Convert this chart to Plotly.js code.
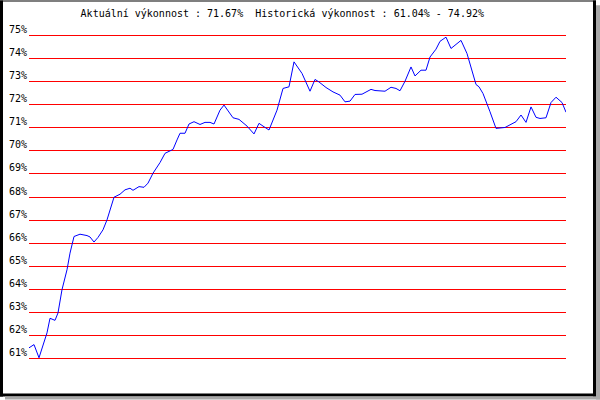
<!DOCTYPE html>
<html>
<head>
<meta charset="utf-8">
<script src="https://cdn.plot.ly/plotly-3.0.1.min.js"></script>
<style>html,body{margin:0;padding:0;background:#fff;}#chart{width:600px;height:400px;}</style>
</head>
<body>
<div id="chart"></div>
<script>
// Data
const days = [0, 5, 10, 14, 18, 21, 26, 29, 33, 38, 41, 45, 51, 58, 61, 65, 69, 74, 78, 85, 91, 96, 101, 104, 110, 115, 119, 124, 131, 136, 144, 148, 151, 156, 160, 165, 171, 176, 181, 185, 191, 195, 204, 210, 218, 225, 230, 234, 240, 248, 254, 260, 265, 273, 277, 281, 286, 290, 297, 304, 311, 316, 321, 326, 333, 342, 346, 356, 362, 367, 371, 376, 382, 386, 392, 397, 401, 407, 411, 417, 422, 427, 432, 438, 443, 447, 450, 454, 461, 467, 476, 480, 487, 492, 497, 502, 507, 511, 517, 522, 527, 533, 537];
const performance = [61.47, 61.61, 61.04, 61.61, 62.12, 62.75, 62.66, 62.98, 63.99, 64.85, 65.57, 66.29, 66.39, 66.33, 66.27, 66.05, 66.25, 66.58, 67.01, 67.99, 68.12, 68.31, 68.38, 68.29, 68.45, 68.42, 68.60, 69.03, 69.49, 69.89, 70.06, 70.47, 70.76, 70.76, 71.16, 71.26, 71.14, 71.23, 71.23, 71.16, 71.76, 71.98, 71.43, 71.36, 71.07, 70.73, 71.19, 71.07, 70.90, 71.76, 72.70, 72.77, 73.85, 73.35, 72.96, 72.58, 73.09, 72.98, 72.74, 72.55, 72.41, 72.12, 72.15, 72.44, 72.45, 72.66, 72.61, 72.58, 72.75, 72.70, 72.60, 73.01, 73.63, 73.24, 73.49, 73.49, 74.06, 74.40, 74.74, 74.92, 74.43, 74.61, 74.78, 74.21, 73.42, 72.87, 72.77, 72.48, 71.69, 70.97, 71.01, 71.11, 71.26, 71.55, 71.23, 71.90, 71.45, 71.40, 71.43, 72.09, 72.32, 72.09, 71.67];
const yTicks = [61, 62, 63, 64, 65, 66, 67, 68, 69, 70, 71, 72, 73, 74, 75];
const currentPerf = "71.67%";
const histMin = "61.04%";
const histMax = "74.92%";

const W = 600, H = 400;
const pad = 0.1;                  // range padding so edge gridlines are drawn
const pxPerUnit = 23.16;
const M = {l: 29, r: 34, t: 35 - pad * pxPerUnit, b: 41 - pad * pxPerUnit};
const pw = W - M.l - M.r, ph = H - M.t - M.b;
const px = x => (x - M.l) / pw;
const py = y => (H - M.b - y) / ph;
function rect(x0, y0, x1, y1, color) {
  return {type: 'rect', xref: 'paper', yref: 'paper', x0: px(x0), x1: px(x1), y0: py(y1), y1: py(y0),
          fillcolor: color, line: {width: 0}, layer: 'below'};
}
const NB = '\u00a0';
const titleText = 'Aktuální výkonnost : ' + currentPerf + NB + NB + 'Historická výkonnost : ' + histMin + ' - ' + histMax;

const mono = 'DejaVu Sans Mono, monospace';
Plotly.newPlot('chart', [{
  x: days, y: performance, type: 'scatter', mode: 'lines',
  line: {color: '#0000ff', width: 1}, hoverinfo: 'skip'
}], {
  width: W, height: H,
  margin: M,
  paper_bgcolor: '#ffffff', plot_bgcolor: '#ffffff',
  showlegend: false,
  font: {family: mono, size: 10, color: '#000'},
  title: {text: titleText, x: 283 / W, xanchor: 'center', xref: 'paper', y: 1 - 13 / H, yanchor: 'middle', yref: 'container',
          font: {family: mono, size: 10, color: '#000'}},
  xaxis: {range: [0, 537], showgrid: false, zeroline: false, showticklabels: false, ticks: '', showline: false, fixedrange: true},
  yaxis: {range: [yTicks[0] - pad, yTicks[yTicks.length - 1] + pad], tickvals: yTicks, ticktext: yTicks.map(v => v + '%'),
          showgrid: true, gridcolor: '#ff0000', gridwidth: 1,
          zeroline: false, showline: false, ticks: '', ticklabelstandoff: 1, ticklabelshift: -6,
          tickfont: {family: mono, size: 10, color: '#000'}, fixedrange: true},
  shapes: [
    rect(0, 0, 596, 1, '#000'),
    rect(0, 0, 3, 397, '#000'),
    rect(593, 0, 596, 397, '#000'),
    rect(0, 394, 596, 397, '#000'),
    rect(596, 5, 600, 400, '#a8a8a8'),
    rect(5, 397, 600, 400, '#a8a8a8')
  ]
}, {staticPlot: true, displayModeBar: false});
</script>
</body>
</html>
